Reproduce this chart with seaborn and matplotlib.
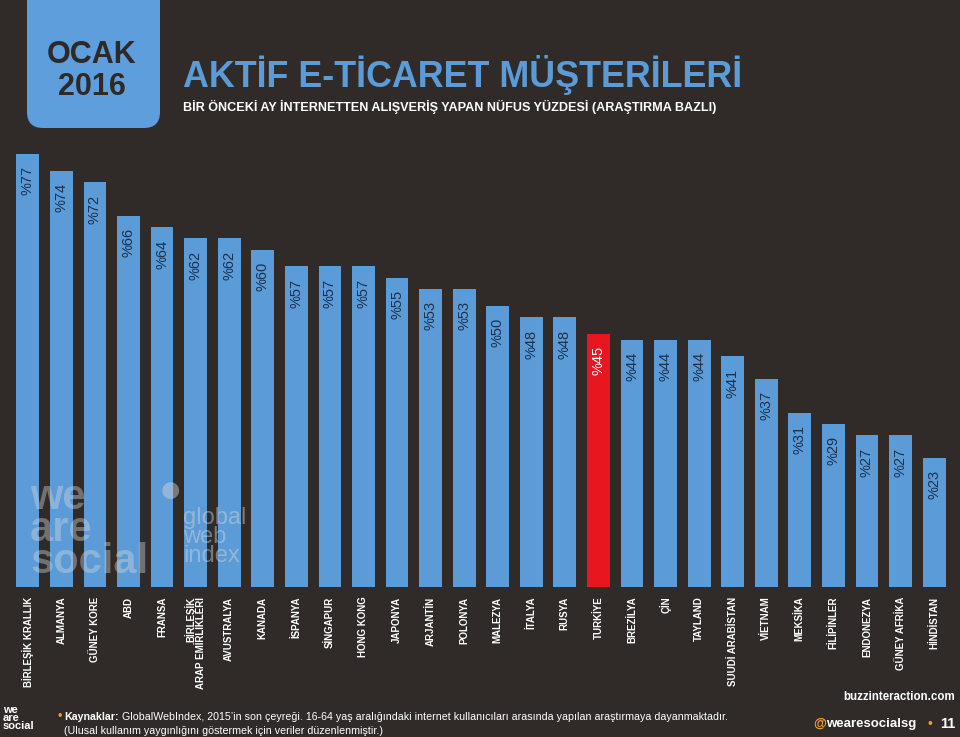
import matplotlib
matplotlib.use('Agg')
import matplotlib.pyplot as plt
import seaborn as sns
import pandas as pd
from matplotlib.patches import FancyBboxPatch

countries = ['BİRLEŞİK KRALLIK', 'ALMANYA', 'GÜNEY KORE', 'ABD', 'FRANSA',
             'BİRLEŞİK\nARAP EMİRLİKLERİ', 'AVUSTRALYA', 'KANADA', 'İSPANYA',
             'SİNGAPUR', 'HONG KONG', 'JAPONYA', 'ARJANTİN', 'POLONYA',
             'MALEZYA', 'İTALYA', 'RUSYA', 'TURKİYE', 'BREZİLYA', 'ÇİN',
             'TAYLAND', 'SUUDİ ARABİSTAN', 'VİETNAM', 'MEKSİKA', 'FİLİPİNLER',
             'ENDONEZYA', 'GÜNEY AFRİKA', 'HİNDİSTAN']
values = [77, 74, 72, 66, 64, 62, 62, 60, 57, 57, 57, 55, 53, 53, 50, 48, 48,
          45, 44, 44, 44, 41, 37, 31, 29, 27, 27, 23]
highlight = 'TURKİYE'

BG = '#302b29'
BLUE = '#5b9bd8'
RED = '#e8171f'
ORANGE = '#f0a030'

sns.set_theme(style='dark')
plt.rcParams['font.family'] = ['Liberation Sans', 'DejaVu Sans']

df = pd.DataFrame({'country': countries, 'value': values})
palette = {c: (RED if c == highlight else BLUE) for c in countries}

fig = plt.figure(figsize=(9.6, 7.37), dpi=100, facecolor=BG)
ax = fig.add_axes([0.0115, 0.2035, 0.979, 0.606])
ax.set_facecolor(BG)
sns.barplot(data=df, x='country', y='value', hue='country', palette=palette,
            legend=False, width=0.68, saturation=1, linewidth=0, ax=ax)
ax.set_xlim(-0.5, len(countries) - 0.5)
ax.set_ylim(0, 79.4)
for s in ax.spines.values():
    s.set_visible(False)
ax.set_yticks([])
ax.set_xlabel('')
ax.set_ylabel('')
ax.grid(False)

# value labels inside top of bars
for i, (c, v) in enumerate(zip(countries, values)):
    ax.text(i, v - 2.2, f'%{v}', rotation=90, ha='center', va='top',
            fontsize=10.5, color='white' if c == highlight else '#1d3149')

ax.set_xticks(range(len(countries)))
ax.set_xticklabels(countries, rotation=90, fontsize=7, fontweight='bold',
                   color='white')
ax.tick_params(axis='x', length=0, pad=7)
for t in ax.get_xticklabels():
    t.set_multialignment('right')
    t.set_linespacing(0.95)

# header box
box = FancyBboxPatch((0.42, 6.24), 1.03, 1.6,
                     boxstyle='round,pad=0.15,rounding_size=0.16',
                     transform=fig.dpi_scale_trans, facecolor='#5f9edc', edgecolor='none')
fig.patches.append(box)
fig.text(92 / 960, 1 - 55 / 737, 'OCAK', ha='center', va='center', fontsize=22,
         fontweight='bold', color='#2e2a28')
fig.text(92 / 960, 1 - 87 / 737, '2016', ha='center', va='center', fontsize=22,
         fontweight='bold', color='#2e2a28')

fig.text(183 / 960, 1 - 87 / 737, 'AKTİF E-TİCARET MÜŞTERİLERİ', ha='left',
         va='baseline', fontsize=25.8, fontweight='bold', color='#5b9bd8')
fig.text(183 / 960, 1 - 111 / 737,
         'BİR ÖNCEKİ AY İNTERNETTEN ALIŞVERİŞ YAPAN NÜFUS YÜZDESİ (ARAŞTIRMA BAZLI)',
         ha='left', va='baseline', fontsize=9.1, fontweight='bold', color='white')

# watermarks
fig.text(30 / 960, 1 - 530 / 737, 'we\nare\nsocial', ha='left', va='center',
         fontsize=30, fontweight='bold', color='#d8d8d8', alpha=0.4, linespacing=0.75)
fig.text(183 / 960, 1 - 537 / 737, 'global\nweb\nindex', ha='left', va='center',
         fontsize=17, color='#d8d8d8', alpha=0.45, linespacing=0.8)
fig.text(170 / 960, 1 - 492 / 737, '●', ha='center', va='center',
         fontsize=28, color='#d8d8d8', alpha=0.45)

# footer
fig.text(3 / 960, 1 - 718 / 737, 'we\nare\nsocial', ha='left', va='center',
         fontsize=8, fontweight='bold', color='white', linespacing=0.8)
fig.text(60 / 960, 1 - 717 / 737, '•', ha='center', va='center', fontsize=9,
         color=ORANGE)
t1 = fig.text(64 / 960, 1 - 717 / 737, 'Kaynaklar:', ha='left', va='center',
              fontsize=7.7, fontweight='bold', color='white')
fig.canvas.draw()
bb = t1.get_window_extent()
fig.text((bb.x1 + 3) / 960, 1 - 717 / 737,
         'GlobalWebIndex, 2015’in son çeyreği. 16-64 yaş aralığındaki internet kullanıcıları arasında yapılan araştırmaya dayanmaktadır.',
         ha='left', va='center', fontsize=7.7, color='white')
fig.text(64 / 960, 1 - 731 / 737,
         '(Ulusal kullanım yaygınlığını göstermek için veriler düzenlenmiştir.)',
         ha='left', va='center', fontsize=7.7, color='white')
fig.text(955 / 960, 1 - 697 / 737, 'buzzinteraction.com', ha='right', va='center',
         fontsize=8.3, fontweight='bold', color='white')
fig.text(813 / 960, 1 - 724 / 737, '@', ha='left', va='center', fontsize=9.5,
         fontweight='bold', color=ORANGE)
fig.text(826 / 960, 1 - 724 / 737, 'wearesocialsg', ha='left', va='center',
         fontsize=9.5, fontweight='bold', color='white')
fig.text(930 / 960, 1 - 724 / 737, '•', ha='center', va='center', fontsize=10,
         color=ORANGE)
fig.text(955 / 960, 1 - 724 / 737, '11', ha='right', va='center', fontsize=10.5,
         fontweight='bold', color='white')

fig.savefig('out.png', dpi=100, facecolor=BG)
